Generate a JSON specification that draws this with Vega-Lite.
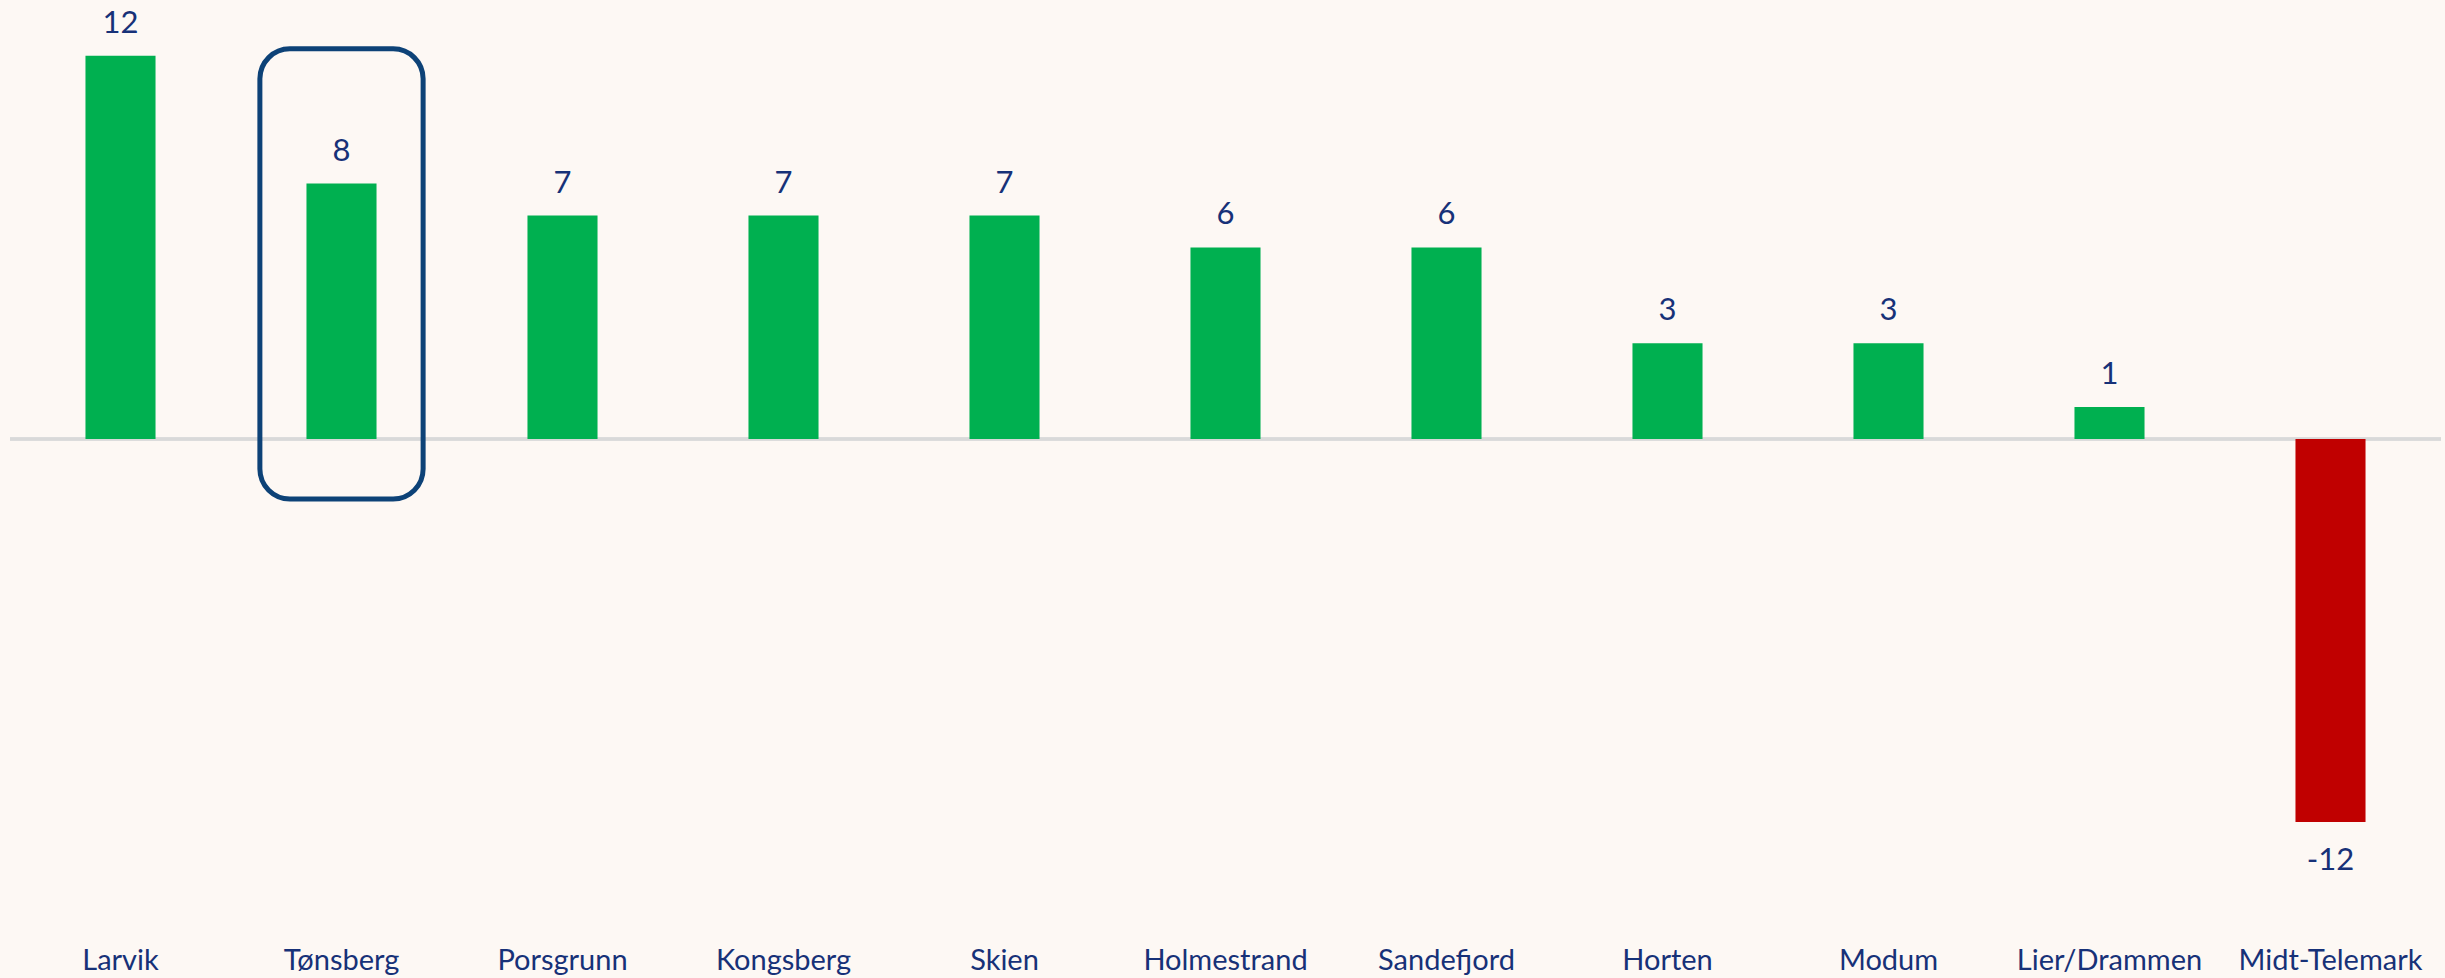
{
  "$schema": "https://vega.github.io/schema/vega-lite/v6.json",
  "width": 2431,
  "height": 900,
  "autosize": {"type": "none"},
  "padding": {"left": 10, "top": 0, "right": 4, "bottom": 78},
  "background": "#fdf8f4",
  "config": {"view": {"stroke": null}, "font": "Lato"},
  "data": {
    "values": [
      {"kommune": "Larvik", "value": 12},
      {"kommune": "Tønsberg", "value": 8},
      {"kommune": "Porsgrunn", "value": 7},
      {"kommune": "Kongsberg", "value": 7},
      {"kommune": "Skien", "value": 7},
      {"kommune": "Holmestrand", "value": 6},
      {"kommune": "Sandefjord", "value": 6},
      {"kommune": "Horten", "value": 3},
      {"kommune": "Modum", "value": 3},
      {"kommune": "Lier/Drammen", "value": 1},
      {"kommune": "Midt-Telemark", "value": -12}
    ]
  },
  "encoding": {
    "x": {
      "field": "kommune",
      "type": "nominal",
      "sort": null,
      "scale": {"paddingInner": 0.683, "paddingOuter": 0.3415},
      "axis": {
        "title": null,
        "domain": false,
        "ticks": false,
        "labelAngle": 0,
        "labelFont": "Lato",
        "labelFontSize": 29,
        "labelColor": "#173178",
        "labelBaseline": "alphabetic",
        "labelPadding": 69,
        "labelLimit": 0,
        "labelOverlap": false
      }
    }
  },
  "layer": [
    {
      "mark": {"type": "rule", "color": "#d9d9d9", "strokeWidth": 2.3},
      "encoding": {"x": null, "y": {"datum": 0, "type": "quantitative", "scale": {"domain": [-14.44, 13.75], "nice": false, "zero": false}, "axis": null}}
    },
    {
      "mark": {"type": "bar"},
      "encoding": {
        "y": {"field": "value", "type": "quantitative", "scale": {"domain": [-14.44, 13.75], "nice": false, "zero": false}, "axis": null},
        "y2": {"datum": 0},
        "color": {"condition": {"test": "datum.value < 0", "value": "#c00000"}, "value": "#00b050"}
      }
    },
    {
      "transform": [{"filter": "datum.value >= 0"}],
      "mark": {"type": "text", "baseline": "alphabetic", "dy": -23, "fontSize": 31, "color": "#173178", "font": "Lato"},
      "encoding": {
        "y": {"field": "value", "type": "quantitative"},
        "text": {"field": "value", "type": "nominal"}
      }
    },
    {
      "transform": [{"filter": "datum.value < 0"}],
      "mark": {"type": "text", "baseline": "alphabetic", "dy": 48, "fontSize": 31, "color": "#173178", "font": "Lato"},
      "encoding": {
        "y": {"field": "value", "type": "quantitative"},
        "text": {"field": "value", "type": "nominal"}
      }
    },
    {
      "transform": [{"filter": "datum.kommune === 'Tønsberg'"}],
      "mark": {"type": "bar", "fill": null, "fillOpacity": 0, "stroke": "#0d4277", "strokeWidth": 5, "cornerRadius": 30, "width": {"band": 2.33}},
      "encoding": {
        "y": {"datum": 12.22, "type": "quantitative"},
        "y2": {"datum": -1.88}
      }
    }
  ]
}
